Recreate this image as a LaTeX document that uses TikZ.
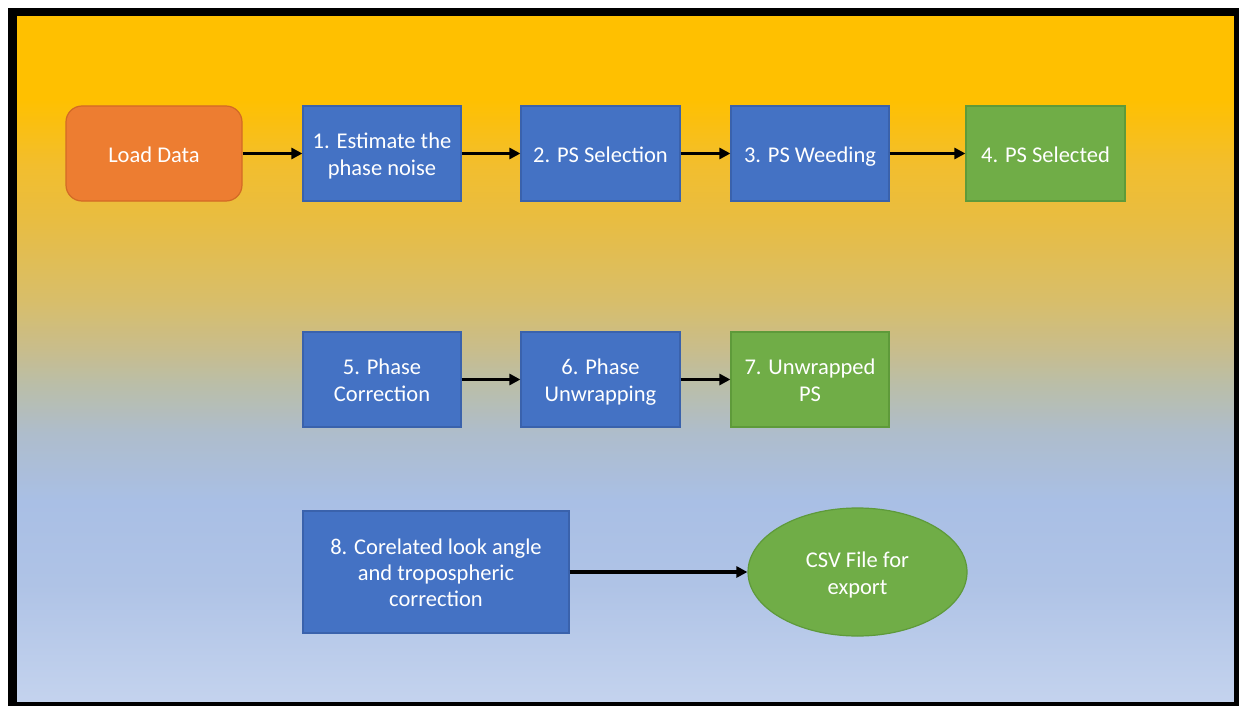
\documentclass[tikz,border=0pt]{standalone}
\usepackage{fontspec}
\setmainfont{Carlito}
\usetikzlibrary{arrows.meta,shapes.geometric}
\definecolor{cA}{HTML}{FFC000}
\definecolor{cB}{HTML}{F2BE2E}
\definecolor{cC}{HTML}{E9BD40}
\definecolor{cD}{HTML}{D8BE6A}
\definecolor{cE}{HTML}{C8BD8C}
\definecolor{cF}{HTML}{BABEA8}
\definecolor{cG}{HTML}{AEBDCC}
\definecolor{cH}{HTML}{A9BFE5}
\definecolor{cI}{HTML}{AFC3E6}
\definecolor{cJ}{HTML}{C4D3EE}
\definecolor{boxblue}{HTML}{4472C4}
\definecolor{boxblueline}{HTML}{3A62AC}
\definecolor{boxgreen}{HTML}{70AD47}
\definecolor{boxgreenline}{HTML}{5E9A3A}
\definecolor{boxorange}{HTML}{ED7D31}
\definecolor{boxorangeline}{HTML}{D36A25}
\pgfdeclareverticalshading{bgshade}{100bp}{%
  color(0bp)=(cJ); color(25bp)=(cJ); color(33.7bp)=(cI); color(39.7bp)=(cH);
  color(44.6bp)=(cG); color(48.2bp)=(cF); color(50.7bp)=(cE); color(54.3bp)=(cD);
  color(60.4bp)=(cC); color(64.1bp)=(cB); color(69bp)=(cA); color(100bp)=(cA)}
\newcommand{\lnstrut}{\rule[-5pt]{0pt}{27pt}}
\newcommand{\lnstrutb}{\rule[-5pt]{0pt}{26pt}}
\tikzset{
  base/.style={text=white, align=center, inner sep=0pt,
    font=\fontsize{22.5}{27}\selectfont},
  bluebox/.style={base, rectangle, fill=boxblue, draw=boxblueline, line width=1.2pt},
  greenbox/.style={base, rectangle, fill=boxgreen, draw=boxgreenline, line width=1.2pt},
  startbox/.style={base, rectangle, rounded corners=16pt, fill=boxorange, draw=boxorangeline, line width=1.2pt},
  endoval/.style={base, ellipse, fill=boxgreen, draw=boxgreenline, line width=1.2pt},
  flow/.style={line width=3.5pt, -{Triangle[length=11pt,width=11pt]}}
}
\begin{document}
\begin{tikzpicture}[x=1pt,y=-1pt]
\useasboundingbox (0,0) rectangle (1239,706);
\fill[white] (0,0) rectangle (1239,706);
\shade[shading=bgshade] (16,16) rectangle (1235,703);
\draw[line width=8.5pt] (12.25,12.25) rectangle (1238.5,706.5);
% row 1
\node[startbox, minimum width=176pt, minimum height=95pt] (load) at (154,153.5) {\lnstrut Load Data};
\node[bluebox, minimum width=158pt, minimum height=95pt] (s1) at (382,153.5) {\lnstrut 1. Estimate the\\\lnstrut phase noise};
\node[bluebox, minimum width=159pt, minimum height=95pt] (s2) at (600.5,153.5) {\lnstrut 2. PS Selection};
\node[bluebox, minimum width=158pt, minimum height=95pt] (s3) at (810,153.5) {\lnstrut 3. PS Weeding};
\node[greenbox, minimum width=159pt, minimum height=95pt] (s4) at (1045.5,153.5) {\lnstrut 4. PS Selected};
% row 2
\node[bluebox, minimum width=158pt, minimum height=95pt] (s5) at (382,379.5) {\lnstrut 5. Phase\\\lnstrut Correction};
\node[bluebox, minimum width=159pt, minimum height=95pt] (s6) at (600.5,379.5) {\lnstrut 6. Phase\\\lnstrut Unwrapping};
\node[greenbox, minimum width=158pt, minimum height=95pt] (s7) at (810,379.5) {\lnstrut 7. Unwrapped\\\lnstrut PS};
% row 3
\node[bluebox, minimum width=266pt, minimum height=122pt, font=\fontsize{22.5}{26}\selectfont] (s8) at (436,572) {\lnstrutb 8. Corelated look angle\\\lnstrutb and tropospheric\\\lnstrutb correction};
\node[endoval, minimum width=219pt, minimum height=128pt] (csv) at (857.5,572) {\lnstrut CSV File for\\\lnstrut export};
% connectors
\draw[flow] (load) -- (s1);
\draw[flow] (s1) -- (s2);
\draw[flow] (s2) -- (s3);
\draw[flow] (s3) -- (s4);
\draw[flow] (s5) -- (s6);
\draw[flow] (s6) -- (s7);
\draw[flow] (s8) -- (csv);
\end{tikzpicture}
\end{document}
